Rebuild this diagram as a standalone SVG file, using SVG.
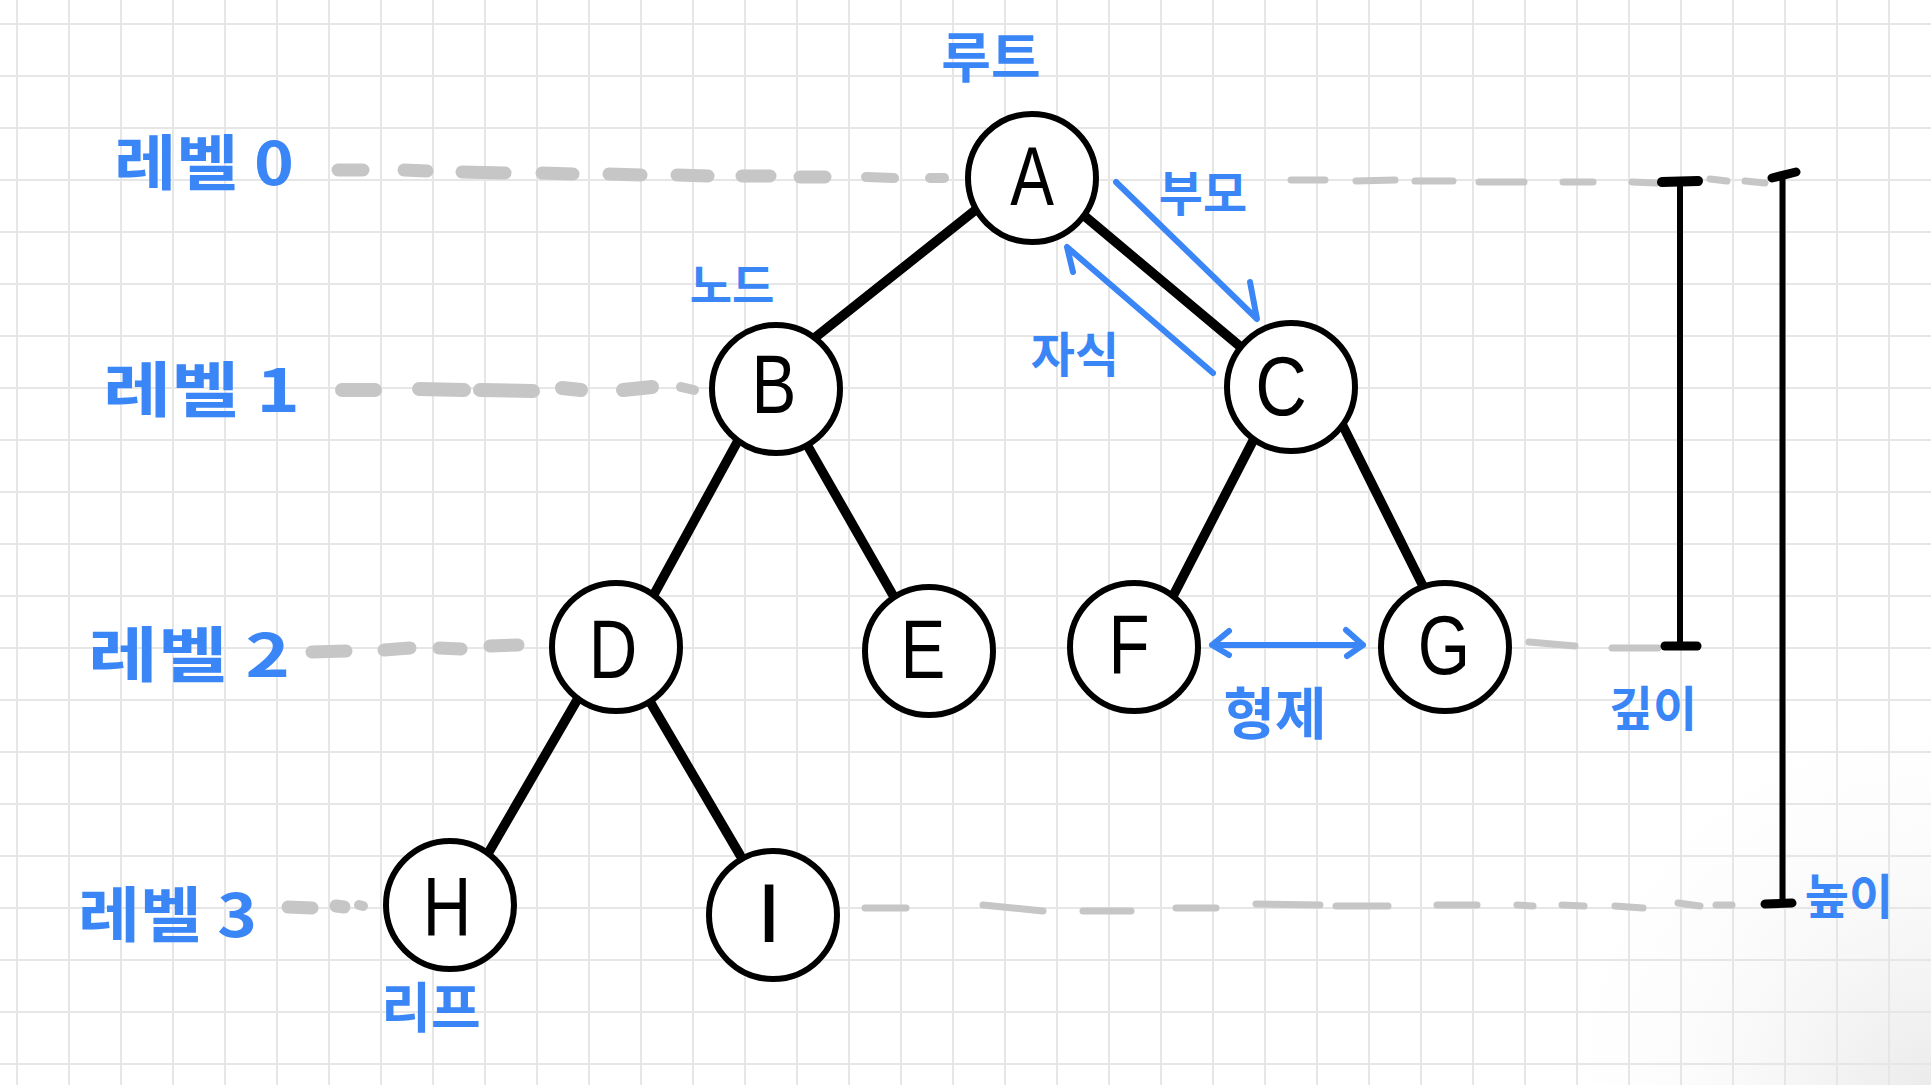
<svg xmlns="http://www.w3.org/2000/svg" width="1931" height="1085" viewBox="0 0 1931 1085">
  <defs>
    <pattern id="grid" x="16" y="23" width="52" height="52" patternUnits="userSpaceOnUse">
      <path d="M0 1 H52 M1 0 V52" fill="none" stroke="#e6e6e6" stroke-width="2"/>
    </pattern>
    <radialGradient id="shade" cx="1931" cy="1085" r="420" gradientUnits="userSpaceOnUse">
      <stop offset="0" stop-color="#e9e9e9" stop-opacity="0.9"/>
      <stop offset="1" stop-color="#ffffff" stop-opacity="0"/>
    </radialGradient>
    <style>
      .node circle { fill: #ffffff; stroke: #000000; stroke-width: 6; }
      .node text { font-family: "Liberation Sans", "DejaVu Sans", sans-serif; font-size: 84px; fill: #000000; text-anchor: middle; }
      .edge { stroke: #000000; stroke-width: 9.5; stroke-linecap: round; fill: none; }
      .guide { stroke: #c6c6c6; stroke-linecap: round; fill: none; }
      .g13 { stroke-width: 13; }
      .g10 { stroke-width: 10; }
      .g7 { stroke-width: 7; }
      .blue { stroke: #3b86f6; stroke-width: 6; stroke-linecap: round; stroke-linejoin: round; fill: none; }
      .label { font-family: "Noto Sans CJK KR", "Noto Sans", sans-serif; font-weight: 700; fill: #3b86f6; dominant-baseline: central; }
      .bar { stroke: #000000; stroke-linecap: round; fill: none; }
    </style>
  </defs>

  <rect width="1931" height="1085" fill="#ffffff"/>
  <rect width="1931" height="1085" fill="url(#shade)"/>
  <rect width="1931" height="1085" fill="url(#grid)"/>

  <!-- level guide dashes -->
  <g id="guides">
    <g class="guide g13">
      <path d="M338 170 L363 170"/>
      <path d="M404 170 L427 171"/>
      <path d="M462 172 L505 173"/>
      <path d="M542 173 L573 174"/>
      <path d="M609 174 L641 175"/>
      <path d="M677 175 L708 176"/>
      <path d="M742 176 L770 176"/>
      <path d="M800 177 L825 177"/>
    </g>
    <g class="guide g10">
      <path d="M866 177 L894 178"/>
      <path d="M930 178 L944 178"/>
    </g>
    <g class="guide g7">
      <path d="M1291 180 L1325 180"/>
      <path d="M1356 181 L1395 180"/>
      <path d="M1415 181 L1453 181"/>
      <path d="M1479 182 L1524 182"/>
      <path d="M1563 182 L1593 182"/>
      <path d="M1632 182 L1656 183"/>
      <path d="M1710 179 L1727 181"/>
      <path d="M1745 181 L1765 183"/>
    </g>
    <g class="guide" stroke-width="14">
      <path d="M342 390 L375 390"/>
      <path d="M419 389 L464 390"/>
      <path d="M480 390 L533 391"/>
      <path d="M562 388 L581 390"/>
      <path d="M623 390 L652 387"/>
    </g>
    <g class="guide g10">
      <path d="M681 387 L694 390"/>
    </g>
    <g class="guide g13">
      <path d="M312 652 L346 651"/>
      <path d="M384 650 L410 648"/>
      <path d="M439 648 L461 649"/>
      <path d="M490 646 L518 645"/>
      <path d="M288 907 L312 908"/>
      <path d="M336 906 L344 907"/>
    </g>
    <g class="guide g10">
      <path d="M359 905 L363 906"/>
    </g>
    <g class="guide g7">
      <path d="M1529 642 L1575 646"/>
      <path d="M1612 648 L1658 648"/>
      <path d="M865 908 L906 908"/>
      <path d="M983 905 L1043 911"/>
      <path d="M1083 911 L1131 911"/>
      <path d="M1176 908 L1216 908"/>
      <path d="M1256 904 L1320 905"/>
      <path d="M1336 906 L1388 906"/>
      <path d="M1437 905 L1477 905"/>
      <path d="M1517 905 L1533 906"/>
      <path d="M1562 905 L1584 906"/>
      <path d="M1615 906 L1643 908"/>
      <path d="M1678 903 L1700 906"/>
      <path d="M1716 905 L1732 905"/>
    </g>
  </g>

  <!-- tree edges -->
  <g id="connectors">
    <path id="edge-A-B" class="edge" d="M978 208 L812 340"/>
    <path id="edge-A-C" class="edge" d="M1081 213 L1242 348"/>
    <path id="edge-B-D" class="edge" d="M740 437 L652 598"/>
    <path id="edge-B-E" class="edge" d="M806 443 L894 597"/>
    <path id="edge-C-F" class="edge" d="M1256 435 L1172 598"/>
    <path id="edge-C-G" class="edge" d="M1341 422 L1424 588"/>
    <path id="edge-D-H" class="edge" d="M580 695 L486 857"/>
    <path id="edge-D-I" class="edge" d="M649 700 L740 855"/>
  </g>

  <!-- nodes -->
  <g id="node-A" class="node"><circle cx="1032" cy="178" r="64"/><text transform="translate(1032 205) scale(0.78 1)">A</text></g>
  <g id="node-B" class="node"><circle cx="776" cy="389" r="64"/><text transform="translate(774 413) scale(0.8 1)">B</text></g>
  <g id="node-C" class="node"><circle cx="1291" cy="387" r="64"/><text transform="translate(1281 415) scale(0.85 1)">C</text></g>
  <g id="node-D" class="node"><circle cx="616" cy="647" r="64"/><text transform="translate(613 678) scale(0.8 1)">D</text></g>
  <g id="node-E" class="node"><circle cx="929" cy="651" r="64"/><text transform="translate(923 678) scale(0.8 1)">E</text></g>
  <g id="node-F" class="node"><circle cx="1134" cy="647" r="64"/><text transform="translate(1129 673) scale(0.8 1)">F</text></g>
  <g id="node-G" class="node"><circle cx="1445" cy="647" r="64"/><text transform="translate(1444 674) scale(0.8 1)">G</text></g>
  <g id="node-H" class="node"><circle cx="450" cy="905" r="64"/><text transform="translate(447 936) scale(0.8 1)">H</text></g>
  <g id="node-I" class="node"><circle cx="773" cy="915" r="64"/><text transform="translate(769 942) scale(1.1 1)">I</text></g>

  <!-- annotation arrows -->
  <g id="annotation-arrows">
    <path id="arrow-parent" class="blue" d="M1116 182 L1257 319 L1250 282"/>
    <path id="arrow-child" class="blue" d="M1213 373 L1067 247 L1073 272"/>
    <path id="arrow-sibling" class="blue" stroke-width="7" d="M1212 645 L1363 645 M1229 631 L1212 645 L1229 655 M1346 630 L1363 645 L1347 656"/>
  </g>

  <!-- depth / height bars -->
  <g id="depth-bar">
    <path class="bar" stroke-width="6" d="M1680 183 L1680 646"/>
    <path class="bar" stroke-width="10" d="M1662 182 L1698 181"/>
    <path class="bar" stroke-width="9" d="M1665 646 L1697 646"/>
  </g>
  <g id="height-bar">
    <path class="bar" stroke-width="6" d="M1782.5 176 L1782.5 903"/>
    <path class="bar" stroke-width="9" d="M1772 178 L1796 172"/>
    <path class="bar" stroke-width="9" d="M1765 904 L1792 903"/>
  </g>

  <!-- labels -->
  <g id="labels">
    <text class="label" x="991" y="54" font-size="54" text-anchor="middle">루트</text>
    <text class="label" x="114" y="158" font-size="60" textLength="180" lengthAdjust="spacingAndGlyphs">레벨 0</text>
    <text class="label" x="103" y="385" font-size="60" textLength="197" lengthAdjust="spacingAndGlyphs">레벨 1</text>
    <text class="label" x="88" y="650" font-size="60" textLength="202" lengthAdjust="spacingAndGlyphs">레벨 2</text>
    <text class="label" x="78" y="910" font-size="60" textLength="179" lengthAdjust="spacingAndGlyphs">레벨 3</text>
    <text class="label" x="732" y="282" font-size="46" text-anchor="middle">노드</text>
    <text class="label" x="1203" y="190" font-size="48" text-anchor="middle">부모</text>
    <text class="label" x="1075" y="351" font-size="48" text-anchor="middle">자식</text>
    <text class="label" x="1275" y="709" font-size="56" text-anchor="middle">형제</text>
    <text class="label" x="1653" y="705" font-size="48" text-anchor="middle">깊이</text>
    <text class="label" x="1849" y="893" font-size="48" text-anchor="middle">높이</text>
    <text class="label" x="431" y="1004" font-size="54" text-anchor="middle">리프</text>
  </g>
</svg>
